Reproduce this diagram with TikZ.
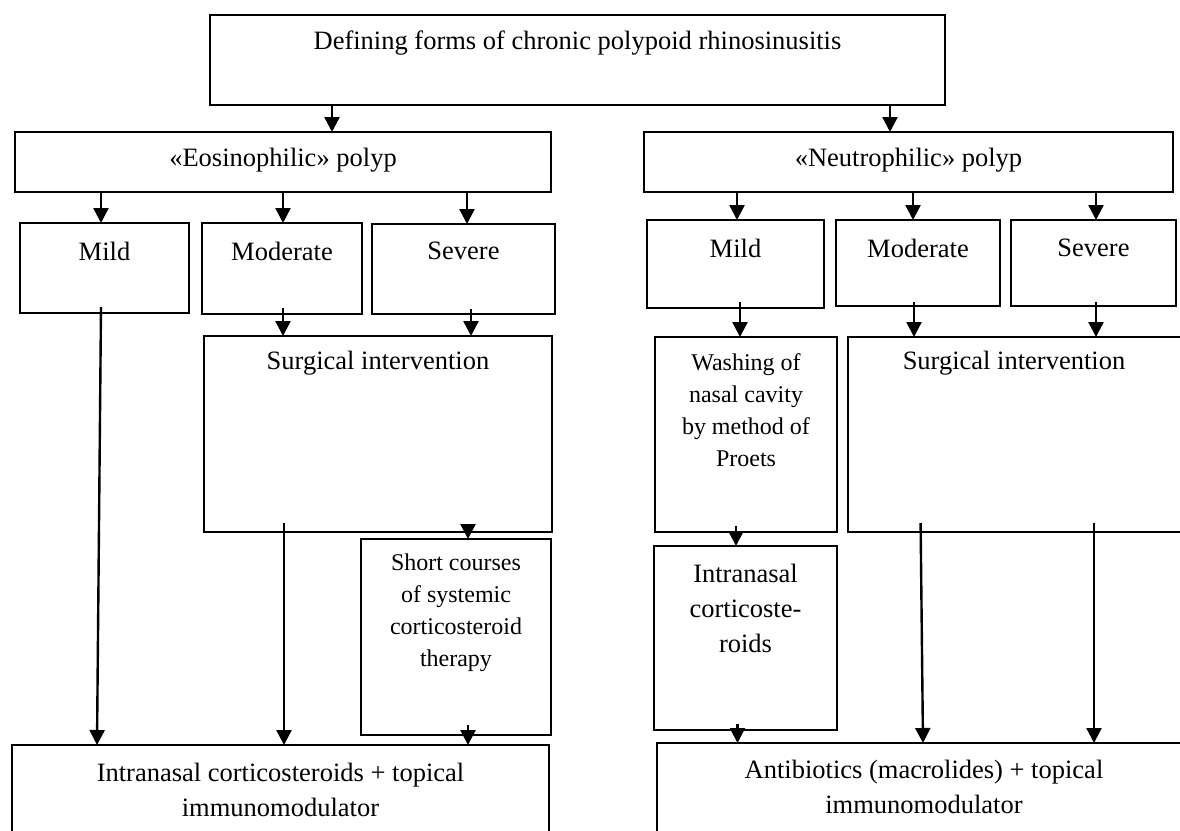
\documentclass[tikz,border=0pt]{standalone}
\usepackage{fontspec}
\setmainfont{Liberation Serif}
\usetikzlibrary{arrows.meta,calc}
\newcommand\mybox[5]{\node[box,minimum width={(#4-#2)*1pt},minimum height={(#5-#3)*1pt}] (#1) at (#2,-#3) {};}
\begin{document}
\begin{tikzpicture}[x=1pt,y=1pt,
  box/.style={draw,line width=2.6pt,rectangle,anchor=north west,inner sep=0pt,outer sep=0pt},
  txt/.style={font=\fontsize{26.5}{35}\selectfont,align=center,inner sep=0pt},
  stxt/.style={font=\fontsize{24}{32}\selectfont,align=center,inner sep=0pt},
  arr/.style={line width=2.4pt,-{Triangle[length=15pt,width=15pt]}},
  ]
\useasboundingbox (0,0) rectangle (1180,-830);
\clip (0,0) rectangle (1180,-830);
\fill[white] (0,0) rectangle (1180,-830);
% boxes
\mybox{top}{210}{15}{945}{105}
\mybox{eos}{15}{132}{551}{192}
\mybox{neu}{644}{132}{1173}{192}
\mybox{mildL}{20}{223}{189}{313}
\mybox{modL}{202}{223}{362}{314}
\mybox{sevL}{372}{224}{555}{314}
\mybox{mildR}{647}{220}{824}{308}
\mybox{modR}{836}{220}{1000}{306}
\mybox{sevR}{1011}{220}{1176}{306}
\mybox{surgL}{204}{336}{552}{532}
\mybox{shortL}{361}{539}{551}{735}
\mybox{botL}{12}{745}{549}{900}
\mybox{wash}{655}{337}{837}{532}
\mybox{surgR}{848}{337}{1190}{532}
\mybox{intraR}{654}{546}{837}{730}
\mybox{botR}{657}{743}{1195}{900}
% texts
\node[txt] (topT) at (577.5,-43) {Defining forms of chronic polypoid rhinosinusitis};
\node[txt] (eosT) at (283,-160) {«Eosinophilic» polyp};
\node[txt] (neuT) at (908.5,-160) {«Neutrophilic» polyp};
\node[txt] (mildLT) at (104.5,-251) {Mild};
\node[txt] (modLT) at (282,-251) {Moderate};
\node[txt] (sevLT) at (463.5,-251) {Severe};
\node[txt] (mildRT) at (735.5,-248) {Mild};
\node[txt] (modRT) at (918,-248) {Moderate};
\node[txt] (sevRT) at (1093.5,-248) {Severe};
\node[txt] (surgLT) at (378,-363) {Surgical intervention};
\node[stxt] (shortT) at (456,-613) {Short courses\\of systemic\\corticosteroid\\therapy};
\node[txt] (botLT) at (280.5,-790) {Intranasal corticosteroids + topical\\immunomodulator};
\node[stxt] (washT) at (746,-410) {Washing of\\nasal cavity\\by method of\\Proets};
\node[txt] (surgRT) at (1014,-363) {Surgical intervention};
\node[txt] (intraRT) at (745.5,-608) {Intranasal\\corticoste-\\roids};
\node[txt] (botRT) at (924,-787) {Antibiotics (macrolides) + topical\\immunomodulator};
% connectors
\draw[arr] (332,0 |- top.south) -- (332,0 |- eos.north);
\draw[arr] (890,0 |- top.south) -- (890,0 |- neu.north);
\draw[arr] (101,0 |- eos.south) -- (101,0 |- mildL.north);
\draw[arr] (283,0 |- eos.south) -- (283,0 |- modL.north);
\draw[arr] (467,0 |- eos.south) -- (467,0 |- sevL.north);
\draw[arr] (737,0 |- neu.south) -- (737,0 |- mildR.north);
\draw[arr] (913,0 |- neu.south) -- (913,0 |- modR.north);
\draw[arr] (1096,0 |- neu.south) -- (1096,0 |- sevR.north);
\draw[arr] ($(101,0 |- mildL.south)+(0,6)$) -- (97,0 |- botL.north);
\draw[arr] ($(283,0 |- modL.south)+(0,6)$) -- (283,0 |- surgL.north);
\draw[arr] ($(471,0 |- sevL.south)+(0,5)$) -- (471,0 |- surgL.north);
\draw[arr] ($(284,0 |- surgL.south)+(0,9)$) -- (284,0 |- botL.north);
\draw[arr] ($(468,0 |- surgL.south)+(0,8)$) -- (468,0 |- shortL.north);
\draw[arr] ($(468,0 |- shortL.south)+(0,10)$) -- (468,0 |- botL.north);
\draw[arr] ($(740,0 |- mildR.south)+(0,6)$) -- (740,0 |- wash.north);
\draw[arr] ($(914,0 |- modR.south)+(0,4)$) -- (914,0 |- surgR.north);
\draw[arr] ($(1096,0 |- sevR.south)+(0,4)$) -- (1096,0 |- surgR.north);
\draw[arr] ($(736,0 |- wash.south)+(0,6)$) -- (736,0 |- intraR.north);
\draw[arr] ($(920.6,0 |- surgR.south)+(0,9)$) -- (923,0 |- botR.north);
\draw[arr] ($(1094,0 |- surgR.south)+(0,9)$) -- (1094,0 |- botR.north);
\draw[arr] ($(737.5,0 |- intraR.south)+(0,6)$) -- (737.5,0 |- botR.north);
\end{tikzpicture}
\end{document}
